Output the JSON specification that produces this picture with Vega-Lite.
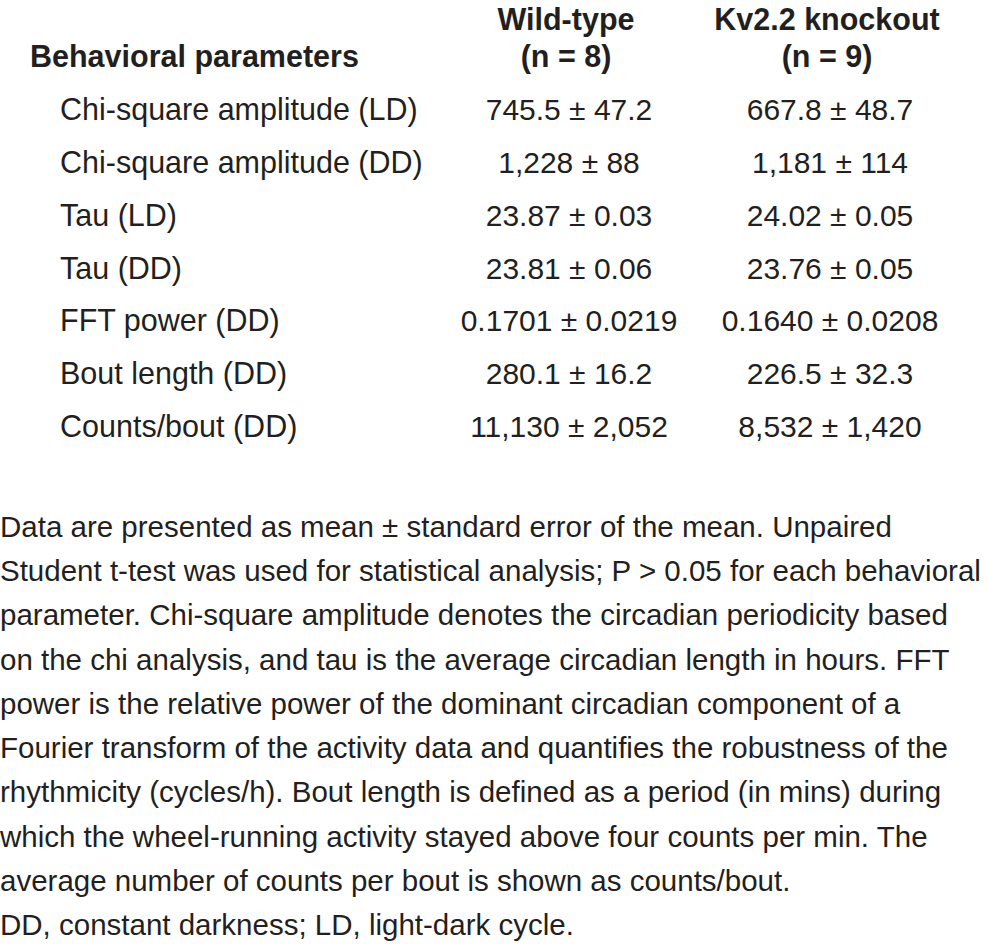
{
  "$schema": "https://vega.github.io/schema/vega-lite/v6.json",
  "width": 985,
  "height": 952,
  "autosize": {"type": "none"},
  "padding": 0,
  "background": "white",
  "config": {"view": {"stroke": null}, "text": {"font": "Liberation Sans Narrow, Arial Narrow, Liberation Sans, Arial, sans-serif", "color": "#231f20", "baseline": "alphabetic"}},
  "datasets": {
    "params": [
      {"i": 0, "param": "Chi-square amplitude (LD)"},
      {"i": 1, "param": "Chi-square amplitude (DD)"},
      {"i": 2, "param": "Tau (LD)"},
      {"i": 3, "param": "Tau (DD)"},
      {"i": 4, "param": "FFT power (DD)"},
      {"i": 5, "param": "Bout length (DD)"},
      {"i": 6, "param": "Counts/bout (DD)"}
    ],
    "values": [
      {"i": 0, "group": "Wild-type", "val": "745.5 ± 47.2"},
      {"i": 1, "group": "Wild-type", "val": "1,228 ± 88"},
      {"i": 2, "group": "Wild-type", "val": "23.87 ± 0.03"},
      {"i": 3, "group": "Wild-type", "val": "23.81 ± 0.06"},
      {"i": 4, "group": "Wild-type", "val": "0.1701 ± 0.0219"},
      {"i": 5, "group": "Wild-type", "val": "280.1 ± 16.2"},
      {"i": 6, "group": "Wild-type", "val": "11,130 ± 2,052"},
      {"i": 0, "group": "Kv2.2 knockout", "val": "667.8 ± 48.7"},
      {"i": 1, "group": "Kv2.2 knockout", "val": "1,181 ± 114"},
      {"i": 2, "group": "Kv2.2 knockout", "val": "24.02 ± 0.05"},
      {"i": 3, "group": "Kv2.2 knockout", "val": "23.76 ± 0.05"},
      {"i": 4, "group": "Kv2.2 knockout", "val": "0.1640 ± 0.0208"},
      {"i": 5, "group": "Kv2.2 knockout", "val": "226.5 ± 32.3"},
      {"i": 6, "group": "Kv2.2 knockout", "val": "8,532 ± 1,420"}
    ],
    "headers": [
      {"h": 0, "group": "Wild-type", "label": "Wild-type"},
      {"h": 1, "group": "Wild-type", "label": "(n = 8)"},
      {"h": 0, "group": "Kv2.2 knockout", "label": "Kv2.2 knockout"},
      {"h": 1, "group": "Kv2.2 knockout", "label": "(n = 9)"}
    ],
    "title": [
      {"h": 1, "label": "Behavioral parameters"}
    ],
    "notes": [
      {"k": 0, "line": "Data are presented as mean ± standard error of the mean. Unpaired"},
      {"k": 1, "line": "Student t-test was used for statistical analysis; P > 0.05 for each behavioral"},
      {"k": 2, "line": "parameter. Chi-square amplitude denotes the circadian periodicity based"},
      {"k": 3, "line": "on the chi analysis, and tau is the average circadian length in hours. FFT"},
      {"k": 4, "line": "power is the relative power of the dominant circadian component of a"},
      {"k": 5, "line": "Fourier transform of the activity data and quantifies the robustness of the"},
      {"k": 6, "line": "rhythmicity (cycles/h). Bout length is defined as a period (in mins) during"},
      {"k": 7, "line": "which the wheel-running activity stayed above four counts per min. The"},
      {"k": 8, "line": "average number of counts per bout is shown as counts/bout."},
      {"k": 9, "line": "DD, constant darkness; LD, light-dark cycle."}
    ]
  },
  "layer": [
    {
      "data": {"name": "params"},
      "mark": {"type": "text", "align": "left", "fontSize": 30.5},
      "encoding": {
        "x": {"value": 60},
        "y": {"field": "i", "type": "quantitative", "scale": {"domain": [0, 6], "range": [120, 437]}, "axis": null},
        "text": {"field": "param"}
      }
    },
    {
      "data": {"name": "values"},
      "mark": {"type": "text", "align": "center", "fontSize": 30},
      "encoding": {
        "x": {"field": "group", "type": "nominal", "scale": {"type": "point", "domain": ["Wild-type", "Kv2.2 knockout"], "range": [569, 830], "padding": 0}, "axis": null},
        "y": {"field": "i", "type": "quantitative", "scale": {"domain": [0, 6], "range": [120, 437]}, "axis": null},
        "text": {"field": "val"}
      }
    },
    {
      "data": {"name": "headers"},
      "mark": {"type": "text", "align": "center", "fontSize": 30.5, "fontWeight": "bold"},
      "encoding": {
        "x": {"field": "group", "type": "nominal", "scale": {"type": "point", "domain": ["Wild-type", "Kv2.2 knockout"], "range": [566, 827], "padding": 0}, "axis": null},
        "y": {"field": "h", "type": "quantitative", "scale": {"domain": [0, 1], "range": [30, 67]}, "axis": null},
        "text": {"field": "label"}
      }
    },
    {
      "data": {"name": "title"},
      "mark": {"type": "text", "align": "left", "fontSize": 30.5, "fontWeight": "bold"},
      "encoding": {
        "x": {"value": 30},
        "y": {"field": "h", "type": "quantitative", "scale": {"domain": [0, 1], "range": [30, 67]}, "axis": null},
        "text": {"field": "label"}
      }
    },
    {
      "data": {"name": "notes"},
      "mark": {"type": "text", "align": "left", "fontSize": 29.5},
      "encoding": {
        "x": {"value": 0},
        "y": {"field": "k", "type": "quantitative", "scale": {"domain": [0, 9], "range": [537, 935]}, "axis": null},
        "text": {"field": "line"}
      }
    }
  ],
  "resolve": {"scale": {"x": "independent", "y": "independent"}}
}
